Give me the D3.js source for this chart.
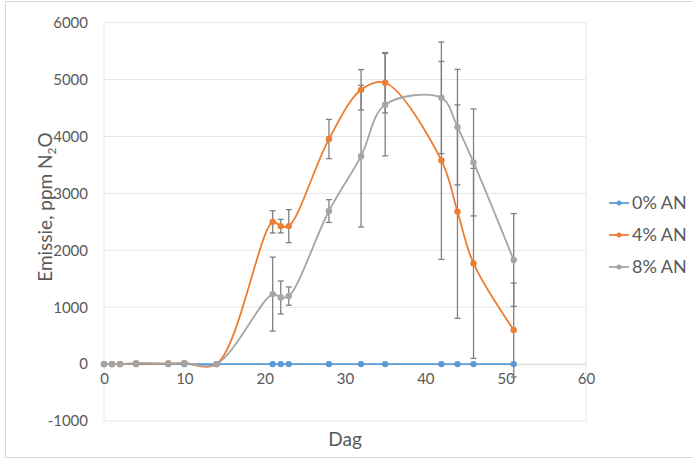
<!DOCTYPE html>
<html lang="nl">
<head>
    <meta charset="UTF-8">
    <title>Emissie N2O</title>
    <script src="https://d3js.org/d3.v7.min.js"></script>
    <style>
        body { margin: 0; background: #fff; }
        svg { display: block; }
        text { font-family: Lato, "Open Sans", sans-serif; fill: #595959; }
        .grid { stroke: #e6e6e6; stroke-width: 1px; }
        .err { stroke: #808080; stroke-width: 1.3px; }
    </style>
</head>
<body>
    <svg width="693" height="459"></svg>

    <script>
        // dagen en meetwaarden (ppm N2O)
        const days  = [0, 1, 2, 4, 8, 10, 14, 21, 22, 23, 28, 32, 35, 42, 44, 46, 51];
        const an0   = [0, 0, 0, 0, 0, 0, 0, 0, 0, 0, 0, 0, 0, 0, 0, 0, 0];
        const an4   = [0, 0, 0, 10, 10, 15, 0, 2500, 2425, 2425, 3955, 4820, 4945, 3580, 2680, 1770, 600];
        const an4Err = [0, 0, 0, 0, 0, 0, 0, 195, 120, 290, 345, 355, 530, 1740, 1875, 1670, 825];
        const an8   = [0, 0, 0, 15, 10, 15, 0, 1230, 1170, 1195, 2690, 3655, 4560, 4680, 4165, 3545, 1830];
        const an8Err = [0, 0, 0, 0, 0, 0, 0, 650, 290, 160, 200, 1245, 900, 980, 1015, 940, 815];
        const xTicks = [0, 10, 20, 30, 40, 50, 60];
        const yTicks = [-1000, 0, 1000, 2000, 3000, 4000, 5000, 6000];

        const series = [
            { name: "0% AN", color: "#5b9bd5", values: an0, err: null },
            { name: "4% AN", color: "#ed7d31", values: an4, err: an4Err },
            { name: "8% AN", color: "#a5a5a5", values: an8, err: an8Err }
        ];

        const svg = d3.select("svg");

        // buitenrand van de grafiek
        svg.append("rect")
            .attr("x", 5.5).attr("y", 1.5)
            .attr("width", 700).attr("height", 456)
            .attr("fill", "none").attr("stroke", "#d9d9d9");

        const x = d3.scaleLinear().domain([0, 60]).range([104, 586]);
        const y = d3.scaleLinear().domain([-1000, 6000]).range([421, 22.7]);

        // rasterlijnen
        svg.append("g").selectAll("line")
            .data(yTicks)
            .enter().append("line")
            .attr("class", "grid")
            .attr("x1", x(0)).attr("x2", x(60))
            .attr("y1", d => y(d)).attr("y2", d => y(d));

        svg.append("line").attr("class", "grid")
            .attr("x1", x(0)).attr("x2", x(0))
            .attr("y1", y(6000)).attr("y2", y(-1000));
        svg.append("line").attr("class", "grid")
            .attr("x1", x(60)).attr("x2", x(60))
            .attr("y1", y(6000)).attr("y2", y(-1000));

        // x-as op y = 0
        const xAxis = svg.append("g")
            .attr("transform", `translate(0,${y(0)})`)
            .call(d3.axisBottom(x).tickValues(xTicks).tickSize(0).tickPadding(9)
                .tickFormat(d => String(d)));
        xAxis.select(".domain").attr("stroke", "#d9d9d9");
        xAxis.selectAll("text").attr("font-size", 15).attr("fill", "#595959")
            .style("font-family", "Lato, sans-serif");

        // y-as labels
        const yAxis = svg.append("g")
            .attr("transform", `translate(${x(0)},0)`)
            .call(d3.axisLeft(y).tickValues(yTicks).tickSize(0).tickPadding(16)
                .tickFormat(d => String(d)));
        yAxis.select(".domain").remove();
        yAxis.selectAll("text").attr("font-size", 15).attr("fill", "#595959")
            .style("font-family", "Lato, sans-serif");

        // astitels
        svg.append("text")
            .attr("x", 345).attr("y", 446)
            .attr("text-anchor", "middle")
            .attr("font-size", 19)
            .text("Dag");

        const yTitle = svg.append("text")
            .attr("transform", "translate(52,207) rotate(-90)")
            .attr("font-size", 19);
        yTitle.append("tspan").text("Emissie, ppm N");
        yTitle.append("tspan").attr("font-size", 12).attr("dy", 4).text("2");
        yTitle.append("tspan").attr("dy", -4).text("O");
        // midden uitlijnen op de gemeten lengte
        const tLen = yTitle.node().getComputedTextLength();
        yTitle.attr("x", -tLen / 2);

        // foutbalken
        const errG = svg.append("g");
        series.filter(s => s.err).forEach(s => {
            days.forEach((d, i) => {
                const e = s.err[i];
                if (!e) return;
                const v = s.values[i];
                const cx = x(d);
                errG.append("line").attr("class", "err")
                    .attr("x1", cx).attr("x2", cx)
                    .attr("y1", y(v - e)).attr("y2", y(v + e));
                [v - e, v + e].forEach(t => {
                    errG.append("line").attr("class", "err")
                        .attr("x1", cx - 3).attr("x2", cx + 3)
                        .attr("y1", y(t)).attr("y2", y(t));
                });
            });
        });

        // lijnen en markers
        const line = d3.line()
            .x(d => x(d[0]))
            .y(d => y(d[1]))
            .curve(d3.curveCatmullRom.alpha(0.5));

        series.forEach(s => {
            const pts = days.map((d, i) => [d, s.values[i]]);
            svg.append("path")
                .datum(pts)
                .attr("fill", "none")
                .attr("stroke", s.color)
                .attr("stroke-width", 1.8)
                .attr("d", line);
            svg.append("g").selectAll("circle")
                .data(pts)
                .enter().append("circle")
                .attr("cx", d => x(d[0]))
                .attr("cy", d => y(d[1]))
                .attr("r", 3.2)
                .attr("fill", s.color);
        });

        // legenda
        const legend = svg.append("g");
        series.forEach((s, i) => {
            const ly = 203 + i * 32;
            legend.append("line")
                .attr("x1", 609).attr("x2", 629)
                .attr("y1", ly).attr("y2", ly)
                .attr("stroke", s.color).attr("stroke-width", 1.8);
            legend.append("circle")
                .attr("cx", 619).attr("cy", ly).attr("r", 2.5)
                .attr("fill", s.color);
            legend.append("text")
                .attr("x", 632).attr("y", ly + 6)
                .attr("font-size", 18)
                .text(s.name);
        });
    </script>
</body>
</html>
